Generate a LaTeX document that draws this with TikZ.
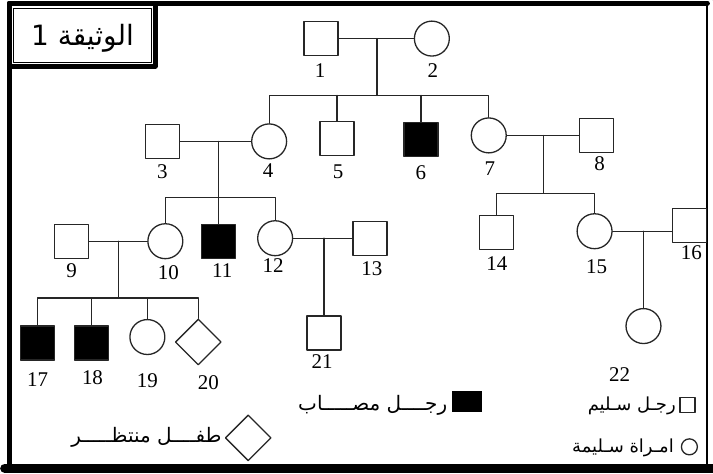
\documentclass[tikz,border=0pt]{standalone}
\usepackage{fontspec}
\setmainfont{Liberation Serif}
\newfontfamily\arabicfont[Script=Arabic]{DejaVu Sans}
\TeXXeTstate=1
\usetikzlibrary{shapes.geometric,positioning}
\newcommand{\numfont}{\fontsize{21}{21}\selectfont}
\newcommand{\keyfont}{\arabicfont\fontsize{18}{18}\selectfont}
\newcommand{\widekeyfont}{\arabicfont\fontsize{20}{20}\selectfont}
\tikzset{
 male/.style={draw,rectangle,minimum size=34pt,inner sep=0pt},
 female/.style={draw,circle,minimum size=35pt,inner sep=0pt},
 sick/.style={fill=black},
 unborn/.style={draw,diamond,minimum size=46pt,inner sep=0pt},
 num/.style={font=\numfont,inner sep=0pt},
 keytext/.style={font=\keyfont,anchor=east,inner sep=0pt}
}
\begin{document}
\begin{tikzpicture}[x=1pt,y=-1pt,line cap=round,line join=round,
  every path/.style={draw=black!85,line width=1.3pt}]
 \useasboundingbox (0,0) rectangle (713,473);
 \fill[white] (0,0) rectangle (713,473);
 \draw[black,line width=5pt] (708,2.5) -- (8.5,2.5) -- (8.5,468);
 \draw[black,line width=9pt] (4,468.5) -- (713,468.5);
 \draw[black,line width=2pt] (708,2.5) -- (708,468);
 \draw[black,line width=5pt] (8.5,2.5) rectangle (155,65.5);
 \draw[black,line width=1pt] (13,8) rectangle (151,62);
 \node[font=\arabicfont\fontsize{28}{28}\selectfont,inner sep=0pt] (title) at (82,38)
  {\beginR الوثيقة 1\endR};
 % generation I
 \node[male] (p1) at (321,38) {};
 \node[female] (p2) at (432,38) {};
 % generation II
 \node[male] (p3) at (162,141) {};
 \node[female] (p4) at (269,141) {};
 \node[male] (p5) at (337,138) {};
 \node[male,sick] (p6) at (421,139) {};
 \node[female] (p7) at (489,135) {};
 \node[male] (p8) at (597,135) {};
 % generation III
 \node[male] (p9) at (71,241) {};
 \node[female] (p10) at (165,241) {};
 \node[male,sick] (p11) at (218,241) {};
 \node[female] (p12) at (275,238) {};
 \node[male] (p13) at (370,238) {};
 \node[male] (p14) at (497,232) {};
 \node[female] (p15) at (595,231) {};
 \node[male] (p16) at (690,225) {};
 % generation IV
 \node[male,sick] (p17) at (37,343) {};
 \node[male,sick] (p18) at (91,343) {};
 \node[female] (p19) at (147,337) {};
 \node[unborn] (p20) at (198,342) {};
 \node[male] (p21) at (324,333) {};
 \node[female] (p22) at (644,326) {};
 % couples and children
 \coordinate (c12) at (377,38); \coordinate (s12) at (377,95);
 \coordinate (c34) at (218,141); \coordinate (s34) at (218,197);
 \coordinate (c78) at (544,135); \coordinate (s78) at (544,193);
 \coordinate (c910) at (118,241); \coordinate (s910) at (118,298);
 \coordinate (c1213) at (324,238);
 \coordinate (c1516) at (644,231);
 \draw (p1) -- (p2);
 \draw (c12) -- (s12);
 \draw (p4.north) |- (s12) -| (p7.north);
 \foreach \p in {p5,p6}{\draw (\p.north) -- (\p.north |- s12);}
 \draw (p3) -- (p4);
 \draw (c34) -- (p11.north);
 \draw (p10.north) |- (s34) -| (p12.north);
 \draw (p7) -- (p8);
 \draw (c78) -- (s78);
 \draw (p14.north) |- (s78) -| (p15.north);
 \draw (p9) -- (p10);
 \draw (c910) -- (s910);
 \draw (p17.north) |- (s910) -| (p20.north);
 \foreach \p in {p18,p19}{\draw (\p.north) -- (\p.north |- s910);}
 \draw (p12) -- (p13);
 \draw (c1213) -- (p21.north);
 \draw (p15.east) -- (p15.east -| p16.west);
 \draw (c1516) -- (p22.north);
 % numbers
 \foreach \n/\x/\y in {1/320/70,2/433/70,3/162/171,4/268/170,5/338/171,6/421/172,
   7/490/168,8/600/163,9/71/270,10/168/272,11/222/270,12/273/265,13/372/268,
   14/497/263,15/597/267,16/692/252,17/37/380,18/92/378,19/147/381,20/208/383,
   21/322/362,22/620/375}
  {\node[num] (n\n) at (\x,\y) {\n};}
 % key
 \node[draw,rectangle,minimum size=15pt,inner sep=0pt] (ksq) at (688,405) {};
 \node[keytext] (ktsq) at (677,406) {\beginR رجـل سـليم\endR};
 \node[rectangle,sick,minimum width=30pt,minimum height=21pt,inner sep=0pt] (kfill) at (467,402) {};
 \node[keytext,font=\widekeyfont] (ktfill) at (448,405) {\beginR رجــــل مصـــــاب\endR};
 \node[draw,circle,minimum size=16pt,inner sep=0pt] (kcirc) at (690,447) {};
 \node[keytext] (ktcirc) at (675,448) {\beginR امـراة سـليمة\endR};
 \node[unborn] (kdia) at (248,438) {};
 \node[keytext,font=\widekeyfont] (ktdia) at (222,437) {\beginR طفــــل منتظـــــر\endR};
\end{tikzpicture}
\end{document}
